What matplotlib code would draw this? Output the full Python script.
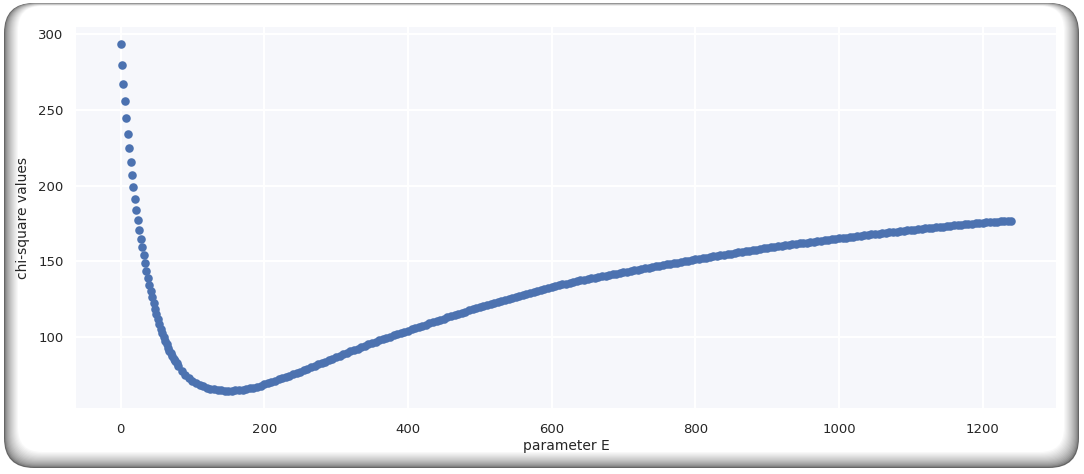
import numpy as np
import matplotlib.pyplot as plt
from matplotlib.patches import FancyBboxPatch

# parameter E grid (step 2 on the steep part, step 5 after)
E = np.r_[np.arange(0, 82, 2), np.arange(85, 1245, 5)]

# chi-square values
chi = [
    # 0 .. 80 (step 2)
    293.4, 280.0, 267.3, 255.8, 244.6, 234.4, 224.8, 215.6, 207.0, 198.8,
    190.8, 183.9, 177.3, 170.9, 164.9, 159.2, 153.8, 148.6, 143.7, 139.0,
    134.5, 130.2, 126.1, 122.2, 118.5, 115.0, 111.7, 108.6, 105.4, 102.5,
    99.8, 97.3, 95.0, 92.8, 90.8, 88.9, 87.1, 85.4, 83.8, 82.3,
    80.9,
    # 85 .. 160
    77.6, 74.9, 72.7, 70.9, 69.4, 68.1, 67.1, 66.3, 65.6, 65.1,
    64.7, 64.4, 64.25, 64.2, 64.3, 64.5,
    # 165 .. 1240
    64.7, 65.0, 65.4, 65.8, 66.3, 66.9, 67.6, 68.4, 69.2, 70.0,
    70.85, 71.7, 72.55, 73.4, 74.25, 75.1, 76.0, 76.9, 77.85, 78.8,
    79.75, 80.7, 81.65, 82.6, 83.55, 84.5, 85.45, 86.4, 87.35, 88.3,
    89.25, 90.2, 91.15, 92.1, 93.05, 94.0, 94.9, 95.8, 96.7, 97.6,
    98.45, 99.3, 100.1, 100.9, 101.7, 102.5, 103.25, 104.0, 104.8, 105.6,
    106.4, 107.2, 108.0, 108.8, 109.6, 110.4, 111.2, 112.0, 112.8, 113.6,
    114.35, 115.1, 115.85, 116.6, 117.35, 118.1, 118.85, 119.6, 120.3, 121.0,
    121.7, 122.4, 123.1, 123.8, 124.5, 125.2, 125.85, 126.5, 127.15, 127.8,
    128.45, 129.1, 129.75, 130.4, 131.0, 131.6, 132.2, 132.8, 133.4, 134.0,
    134.55, 135.1, 135.65, 136.2, 136.7, 137.2, 137.7, 138.2, 138.65, 139.1,
    139.55, 140.0, 140.4, 140.8, 141.25, 141.7, 142.15, 142.6, 143.05, 143.5,
    143.95, 144.4, 144.8, 145.2, 145.6, 146.0, 146.45, 146.9, 147.35, 147.8,
    148.2, 148.6, 149.05, 149.5, 149.9, 150.3, 150.7, 151.1, 151.5, 151.9,
    152.3, 152.7, 153.1, 153.5, 153.85, 154.2, 154.6, 155.0, 155.4, 155.8,
    156.15, 156.5, 156.9, 157.3, 157.65, 158.0, 158.35, 158.7, 159.05, 159.4,
    159.75, 160.1, 160.4, 160.7, 161.05, 161.4, 161.7, 162.0, 162.3, 162.6,
    162.9, 163.2, 163.5, 163.8, 164.1, 164.4, 164.7, 165.0, 165.3, 165.6,
    165.9, 166.2, 166.45, 166.7, 167.0, 167.3, 167.6, 167.9, 168.15, 168.4,
    168.7, 169.0, 169.25, 169.5, 169.75, 170.0, 170.25, 170.5, 170.8, 171.1,
    171.35, 171.6, 171.85, 172.1, 172.35, 172.6, 172.85, 173.1, 173.35, 173.6,
    173.8, 174.0, 174.25, 174.5, 174.7, 174.9, 175.15, 175.4, 175.6, 175.8,
    175.95, 176.1, 176.25, 176.4, 176.55, 176.7,
]
assert len(E) == len(chi)

fig = plt.figure(figsize=(10.84, 4.74), dpi=100)

# rounded bevel frame around the chart (pixel coordinates)
bg = fig.add_axes([0, 0, 1, 1], zorder=-1)
bg.set_xlim(0, 1084)
bg.set_ylim(474, 0)
bg.axis('off')
outer = (4, 3, 1079, 468)
inner = (18, 6, 1064, 452)
n = 14
for i in range(n + 1):
    f = i / n
    x0 = outer[0] + (inner[0] - outer[0]) * f
    y0 = outer[1] + (inner[1] - outer[1]) * f
    x1 = outer[2] + (inner[2] - outer[2]) * f
    y1 = outer[3] + (inner[3] - outer[3]) * f
    g = 0.40 + (1.0 - 0.40) * f ** 0.6
    if i == n:
        g = 1.0
    bg.add_patch(FancyBboxPatch((x0, y0), x1 - x0, y1 - y0,
                                boxstyle='round,pad=0,rounding_size=%g' % (30 - 6 * f),
                                fc=(g, g, g), ec='none'))

ax = fig.add_axes([0.0701, 0.139, 0.9041, 0.804])
ax.set_facecolor('#f6f7fb')
ax.scatter(E, chi, s=38, color='#4c72b0', linewidths=0, zorder=3)

ax.set_xticks([0, 200, 400, 600, 800, 1000, 1200])
ax.set_yticks([100, 150, 200, 250, 300])
ax.grid(True, color='white', linewidth=1.6)
ax.set_axisbelow(True)
for s in ax.spines.values():
    s.set_visible(False)
ax.tick_params(axis='both', length=0, labelsize=9.5, labelcolor='#262626')
ax.tick_params(axis='x', pad=11)
ax.tick_params(axis='y', pad=9)
ax.set_xlabel('parameter E', fontsize=10, color='#262626', labelpad=2)
ax.set_ylabel('chi-square values', fontsize=10, color='#262626', labelpad=6)

fig.savefig('out.png', dpi=100)
